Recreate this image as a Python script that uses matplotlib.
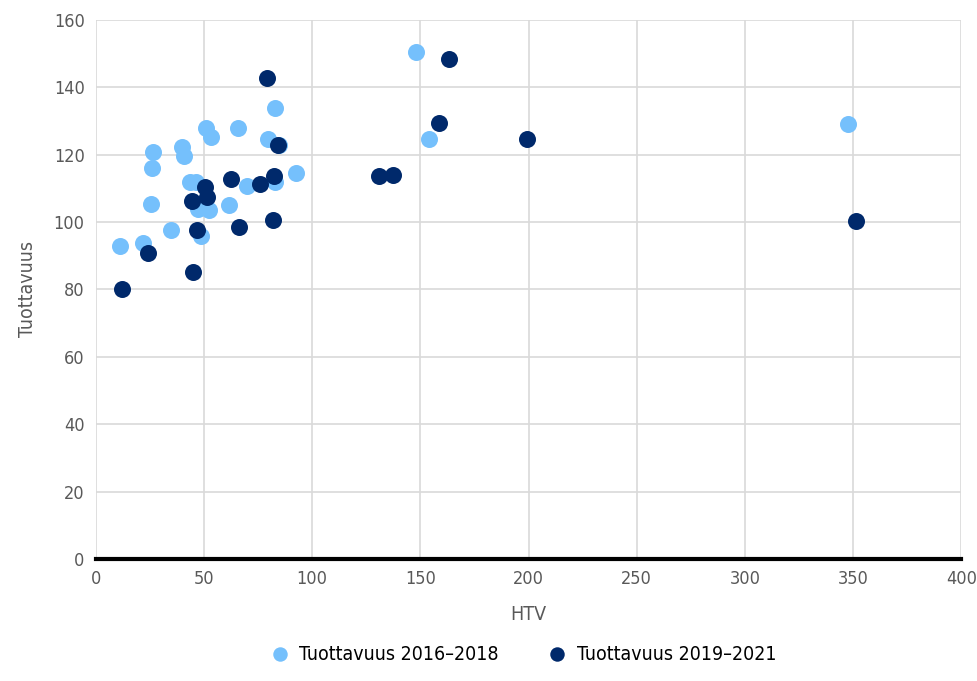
import numpy as np
import matplotlib.pyplot as plt

plt.rcParams['font.family'] = ['DejaVu Sans']
plt.rcParams['font.stretch'] = 'condensed'

# Tuottavuus 2016-2018
htv_a = [11.1, 21.7, 26.4, 26.0, 25.4, 34.7, 39.8, 40.7, 43.5, 46.2, 50.9, 53.2,
         47.2, 52.3, 48.6, 61.5, 65.7, 69.8, 79.5, 82.8, 82.8, 84.6, 92.5,
         148.0, 154.0, 347.7]
tuot_a = [92.9, 93.8, 120.8, 116.1, 105.4, 97.7, 122.3, 119.6, 111.9, 111.9, 127.9, 125.3,
          103.9, 103.6, 95.9, 105.1, 127.9, 110.7, 124.7, 133.9, 111.9, 122.9, 114.6,
          150.5, 124.7, 129.1]

# Tuottavuus 2019-2021
htv_b = [12.0, 24.0, 44.9, 46.7, 44.4, 50.4, 51.3, 62.4, 66.1, 75.8, 79.1, 81.8,
         82.3, 84.2, 130.9, 137.3, 158.6, 163.2, 199.3, 351.4]
tuot_b = [80.1, 90.8, 85.2, 97.7, 106.3, 110.4, 107.5, 112.8, 98.5, 111.3, 142.8, 100.6,
          113.7, 122.9, 113.7, 114.0, 129.4, 148.4, 124.7, 100.3]

light = '#75c0fc'
dark = '#00296b'
txt = '#595959'

fig = plt.figure(figsize=(9.78, 6.81), dpi=100)
ax = fig.add_axes([0.098, 0.179, 0.885, 0.792])

ax.scatter(htv_a, tuot_a, s=150, color=light, zorder=3, label='Tuottavuus 2016–2018', linewidths=0)
ax.scatter(htv_b, tuot_b, s=150, color=dark, zorder=4, label='Tuottavuus 2019–2021', linewidths=0)

ax.set_xlim(0, 400)
ax.set_ylim(0, 160)
ax.set_xticks(np.arange(0, 401, 50))
ax.set_yticks(np.arange(0, 161, 20))
ax.grid(True, color='#d9d9d9', linewidth=1.2, zorder=0)
ax.set_axisbelow(True)
for s in ['top', 'right', 'left']:
    ax.spines[s].set_visible(False)
ax.spines['bottom'].set_linewidth(3)
ax.spines['bottom'].set_color('black')
ax.spines['bottom'].set_zorder(5)
ax.tick_params(length=0, labelsize=13, colors=txt, pad=8)

ax.set_xlabel('HTV', fontsize=14, color=txt, labelpad=12)
ax.set_ylabel('Tuottavuus', fontsize=14, color=txt, labelpad=12)

fig.legend(loc='lower center', bbox_to_anchor=(0.53, 0.0), ncol=2, frameon=False,
           fontsize=14, handletextpad=0.0, columnspacing=2.0, markerscale=0.85)

fig.savefig('out.png', dpi=100)
